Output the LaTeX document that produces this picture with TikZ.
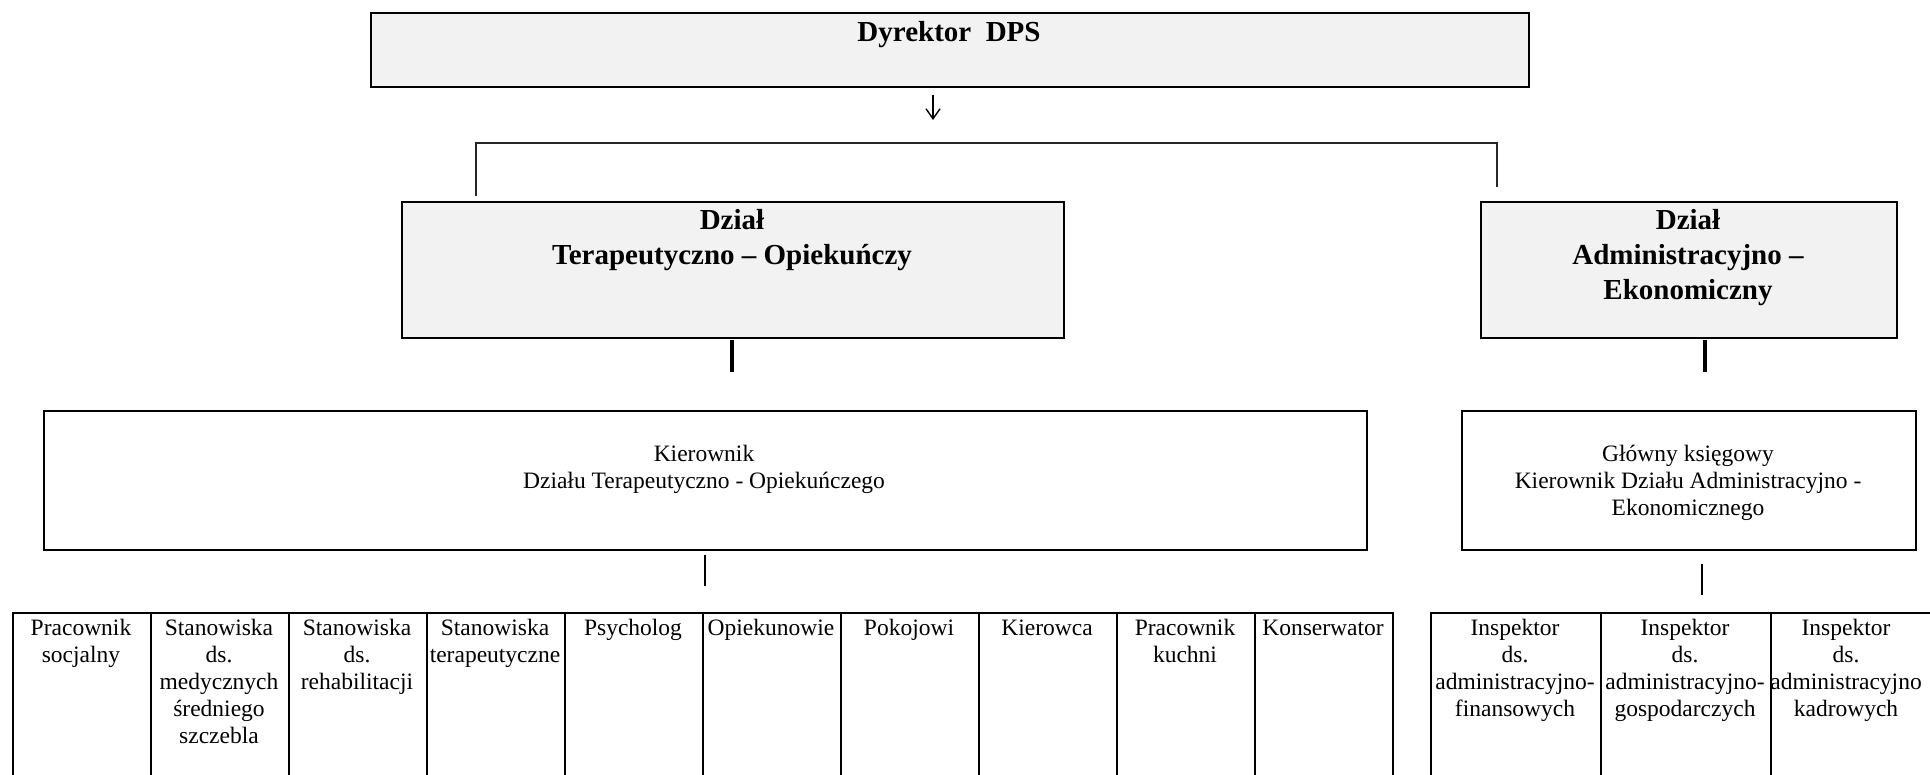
\documentclass[tikz,border=0pt]{standalone}
\usepackage{fontspec}
\setmainfont{Liberation Serif}
\usetikzlibrary{arrows.meta}
\definecolor{headgray}{HTML}{F2F2F2}
\begin{document}
\begin{tikzpicture}[x=0.5pt,y=-0.5pt,
  box/.style={draw, line width=1.1pt, inner sep=0pt, anchor=north west, rectangle},
  headbox/.style={box, fill=headgray, line width=1.2pt},
  htext/.style={font=\fontsize{14.5}{17.5}\selectfont\bfseries, align=center, anchor=north, inner sep=0pt},
  rtext/.style={font=\fontsize{11.75}{13.5}\selectfont, align=center, anchor=north, inner sep=0pt},
  heavyconn/.style={line width=1.6pt},
  lightconn/.style={line width=0.7pt},
  cell/.style={box, minimum width=69pt, minimum height=95pt},
  rcell/.style={box, minimum width=85pt, minimum height=95pt}
]
\path[use as bounding box] (0,0) rectangle (1930,775);
\clip (0,0) rectangle (1930,775);

% top level
\node[headbox, minimum width=579pt, minimum height=37pt] (dyr) at (370,12) {};
\node[htext] (dyrT) at (949,17) {\strut Dyrektor\ \ DPS};

\coordinate (arrS) at (933,95);
\coordinate (arrE) at (933,120);
\draw[line width=0.7pt, -{Straight Barb[length=5pt,width=7pt,line width=0.7pt]}] (arrS) -- (arrE);

\coordinate (bl) at (476,196);
\coordinate (blt) at (476,143);
\coordinate (brt) at (1497,143);
\coordinate (br) at (1497,187);
\draw[line width=1.1pt, black!85] (bl) -- (blt) -- (brt) -- (br);

% departments
\node[headbox, minimum width=331pt, minimum height=68pt] (dzT) at (401,201) {};
\node[htext] (dzTT) at (732,204.5) {\strut Dział\\Terapeutyczno – Opiekuńczy};

\node[headbox, minimum width=208pt, minimum height=68pt] (dzA) at (1480,201) {};
\node[htext] (dzAT) at (1688,204.5) {\strut Dział\\Administracyjno –\\Ekonomiczny};

\coordinate (t1a) at (732,340);
\coordinate (t1b) at (732,372);
\draw[heavyconn] (t1a) -- (t1b);
\coordinate (t2a) at (1705,340);
\coordinate (t2b) at (1705,372);
\draw[heavyconn] (t2a) -- (t2b);

% heads of departments
\node[box, minimum width=661.5pt, minimum height=69.5pt] (kier) at (43,410) {};
\node[rtext] (kierT) at (704,442) {\strut Kierownik\\Działu Terapeutyczno - Opiekuńczego};

\node[box, minimum width=227pt, minimum height=69.5pt] (gk) at (1461,410) {};
\node[rtext] (gkT) at (1688,442) {\strut Główny księgowy\\Kierownik Działu Administracyjno -\\Ekonomicznego};

\coordinate (l1a) at (705,555);
\coordinate (l1b) at (705,586);
\draw[lightconn] (l1a) -- (l1b);
\coordinate (l2a) at (1702,564);
\coordinate (l2b) at (1702,595);
\draw[lightconn] (l2a) -- (l2b);

% bottom row, left
\node[cell] (c1) at (12,612) {};
\node[cell] (c2) at (150,612) {};
\node[cell] (c3) at (288,612) {};
\node[cell] (c4) at (426,612) {};
\node[cell] (c5) at (564,612) {};
\node[cell] (c6) at (702,612) {};
\node[cell] (c7) at (840,612) {};
\node[cell] (c8) at (978,612) {};
\node[cell] (c9) at (1116,612) {};
\node[cell] (c10) at (1254,612) {};

\node[rtext] (c1T) at (81,616) {\strut Pracownik\\socjalny};
\node[rtext] (c2T) at (219,616) {\strut Stanowiska\\ds.\\medycznych\\średniego\\szczebla};
\node[rtext] (c3T) at (357,616) {\strut Stanowiska\\ds.\\rehabilitacji};
\node[rtext] (c4T) at (495,616) {\strut Stanowiska\\terapeutyczne};
\node[rtext] (c5T) at (633,616) {\strut Psycholog};
\node[rtext] (c6T) at (771,616) {\strut Opiekunowie};
\node[rtext] (c7T) at (909,616) {\strut Pokojowi};
\node[rtext] (c8T) at (1047,616) {\strut Kierowca};
\node[rtext] (c9T) at (1185,616) {\strut Pracownik\\kuchni};
\node[rtext] (c10T) at (1323,616) {\strut Konserwator};

% bottom row, right
\node[rcell] (r1) at (1430,612) {};
\node[rcell] (r2) at (1600,612) {};
\node[rcell] (r3) at (1770,612) {};

\node[rtext] (r1T) at (1515,616) {\strut Inspektor\\ds.\\administracyjno-\\finansowych};
\node[rtext] (r2T) at (1685,616) {\strut Inspektor\\ds.\\administracyjno-\\gospodarczych};
\node[rtext] (r3T) at (1846,616) {\strut Inspektor\\ds.\\administracyjno\\kadrowych};
\end{tikzpicture}
\end{document}
